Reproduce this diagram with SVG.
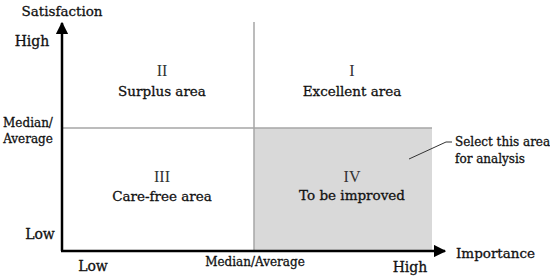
<svg xmlns="http://www.w3.org/2000/svg" width="550" height="279" viewBox="0 0 550 279">
<defs>
<style>
.t{font-family:"DejaVu Serif","Liberation Serif",serif;font-size:13.5px;fill:#111;stroke:#111;stroke-width:0.3;}
.s{font-size:12px;}
.h{font-size:14px;}
.n{font-family:"Liberation Serif","DejaVu Serif",serif;font-size:16px;fill:#333;}
.g{stroke:#a6a6a6;stroke-width:1.5;fill:none;}
.ax{stroke:#000;stroke-width:2.5;fill:none;}
</style>
<marker id="ah" viewBox="0 0 10 10" refX="9" refY="5" markerWidth="5" markerHeight="5" orient="auto" markerUnits="strokeWidth">
<path d="M0,0 L10,5 L0,10 z" fill="#000"/>
</marker>
</defs>
<rect width="550" height="279" fill="#fff"/>
<g id="quadrant-IV">
<rect x="254" y="128" width="178" height="123" fill="#d9d9d9"/>
</g>
<g id="connectors">
<line class="g" x1="254" y1="22" x2="254" y2="251"/>
<line class="g" x1="62" y1="128" x2="432" y2="128"/>
<line class="ax" x1="62" y1="251" x2="62" y2="23" marker-end="url(#ah)"/>
<line class="ax" x1="61" y1="251" x2="445" y2="251" marker-end="url(#ah)"/>
<polyline points="409,159 446,142 452,142" fill="none" stroke="#333" stroke-width="1"/>
</g>
<g id="axis-labels">
<text class="t" x="62" y="16" text-anchor="middle">Satisfaction</text>
<text class="t h" x="32" y="46" text-anchor="middle">High</text>
<text class="t s" x="28" y="127" text-anchor="middle">Median/</text>
<text class="t s" x="28" y="143" text-anchor="middle">Average</text>
<text class="t h" x="40" y="239" text-anchor="middle">Low</text>
<text class="t h" x="93" y="271" text-anchor="middle">Low</text>
<text class="t s" x="255" y="266" text-anchor="middle">Median/Average</text>
<text class="t h" x="410" y="272" text-anchor="middle">High</text>
<text class="t" x="456" y="258">Importance</text>
</g>
<g id="area-II">
<text class="n" x="162" y="76" text-anchor="middle">II</text>
<text class="t" x="162" y="96" text-anchor="middle">Surplus area</text>
</g>
<g id="area-I">
<text class="n" x="352" y="76" text-anchor="middle">I</text>
<text class="t" x="352" y="96" text-anchor="middle">Excellent area</text>
</g>
<g id="area-III">
<text class="n" x="162" y="182" text-anchor="middle">III</text>
<text class="t" x="162" y="201" text-anchor="middle">Care-free area</text>
</g>
<g id="area-IV">
<text class="n" x="352" y="182" text-anchor="middle">IV</text>
<text class="t" x="352" y="200" text-anchor="middle">To be improved</text>
</g>
<g id="callout">
<text class="t s" x="455" y="146">Select this area</text>
<text class="t s" x="455" y="163">for analysis</text>
</g>
</svg>
